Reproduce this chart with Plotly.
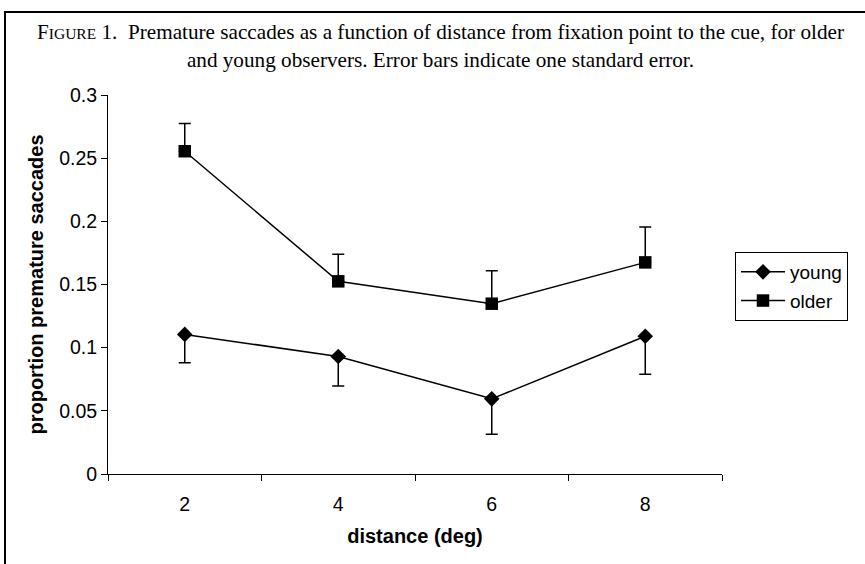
import plotly.graph_objects as go

# ---- data ----
distance = [2, 4, 6, 8]
young = [0.1105, 0.093, 0.0595, 0.109]
young_se = [0.0225, 0.0234, 0.028, 0.030]
older = [0.2555, 0.1525, 0.1348, 0.1675]
older_se = [0.022, 0.0215, 0.026, 0.028]
zeros = [0, 0, 0, 0]
y_tickvals = [0, 0.05, 0.1, 0.15, 0.2, 0.25, 0.3]
y_ticktext = ["0", "0.05", "0.1", "0.15", "0.2", "0.25", "0.3"]

W, H = 865, 564
ML, MR, MT, MB = 108, 143, 95, 90
PW = W - ML - MR
PH = H - MT - MB


def px_x(px):
    return (px - ML) / PW


def px_y(py):
    return (H - MB - py) / PH


SANS = "Liberation Sans, Arial, sans-serif"
SERIF = "Liberation Serif, Times New Roman, serif"

fig = go.Figure()
fig.add_trace(go.Scatter(
    x=distance, y=young, name="young", mode="lines+markers", legendgroup="y",
    line=dict(color="black", width=1.5),
    marker=dict(symbol="diamond", size=12, color="black"),
    error_y=dict(type="data", symmetric=False, array=zeros, arrayminus=young_se,
                 color="black", thickness=1.5, width=6),
))
fig.add_trace(go.Scatter(
    x=distance, y=older, name="older", mode="lines+markers", legendgroup="o",
    line=dict(color="black", width=1.5),
    marker=dict(symbol="square", size=12.5, color="black"),
    error_y=dict(type="data", symmetric=False, array=older_se, arrayminus=zeros,
                 color="black", thickness=1.5, width=6),
))

fig.update_layout(
    width=W, height=H,
    margin=dict(l=ML, r=MR, t=MT, b=MB),
    paper_bgcolor="white", plot_bgcolor="white",
    font=dict(family=SANS, size=19, color="black"),
    showlegend=True,
    legend=dict(
        x=px_x(735), y=px_y(252), xanchor="left", yanchor="top",
        bordercolor="black", borderwidth=1, bgcolor="white",
        font=dict(family=SANS, size=19, color="black"),
        tracegroupgap=1, itemwidth=44,
    ),
    xaxis=dict(
        range=[1, 9], tickvals=distance, ticks="",
        showline=True, linecolor="black", linewidth=1,
        showgrid=False, zeroline=False,
        ticklabelstandoff=13,
        minor=dict(tick0=1, dtick=2, ticks="outside", ticklen=6,
                   tickcolor="black", showgrid=False),
        title=dict(text="<b>distance (deg)</b>", font=dict(family=SANS, size=20),
                   standoff=14),
        tickfont=dict(family=SANS, size=19.5),
    ),
    yaxis=dict(
        range=[0, 0.3], tickvals=y_tickvals, ticktext=y_ticktext,
        ticks="outside", ticklen=6, tickcolor="black",
        showline=True, linecolor="black", linewidth=1,
        showgrid=False, zeroline=False,
        title=dict(text="<b>proportion premature saccades</b>",
                   font=dict(family=SANS, size=20), standoff=10),
        tickfont=dict(family=SANS, size=19.5),
    ),
)

title_text = ("F<span style='font-size:15.5px'>IGURE</span> 1.  Premature saccades as a function of "
              "distance from fixation point to the cue, for older<br>"
              "and young observers. Error bars indicate one standard error.")
fig.add_annotation(
    text=title_text, xref="paper", yref="paper",
    x=px_x(440), y=px_y(18), xanchor="center", yanchor="top",
    showarrow=False, align="center",
    font=dict(family=SERIF, size=21.2, color="black"),
)

# outer frame: top and left lines
fig.add_shape(type="line", xref="paper", yref="paper",
              x0=px_x(4), x1=px_x(866), y0=px_y(12), y1=px_y(12),
              line=dict(color="black", width=2))
fig.add_shape(type="line", xref="paper", yref="paper",
              x0=px_x(5), x1=px_x(5), y0=px_y(11), y1=px_y(566),
              line=dict(color="black", width=2))

fig.write_html("out.html", config={"displayModeBar": False},
               post_script="document.body.style.margin='0';document.body.style.overflow='hidden';")
